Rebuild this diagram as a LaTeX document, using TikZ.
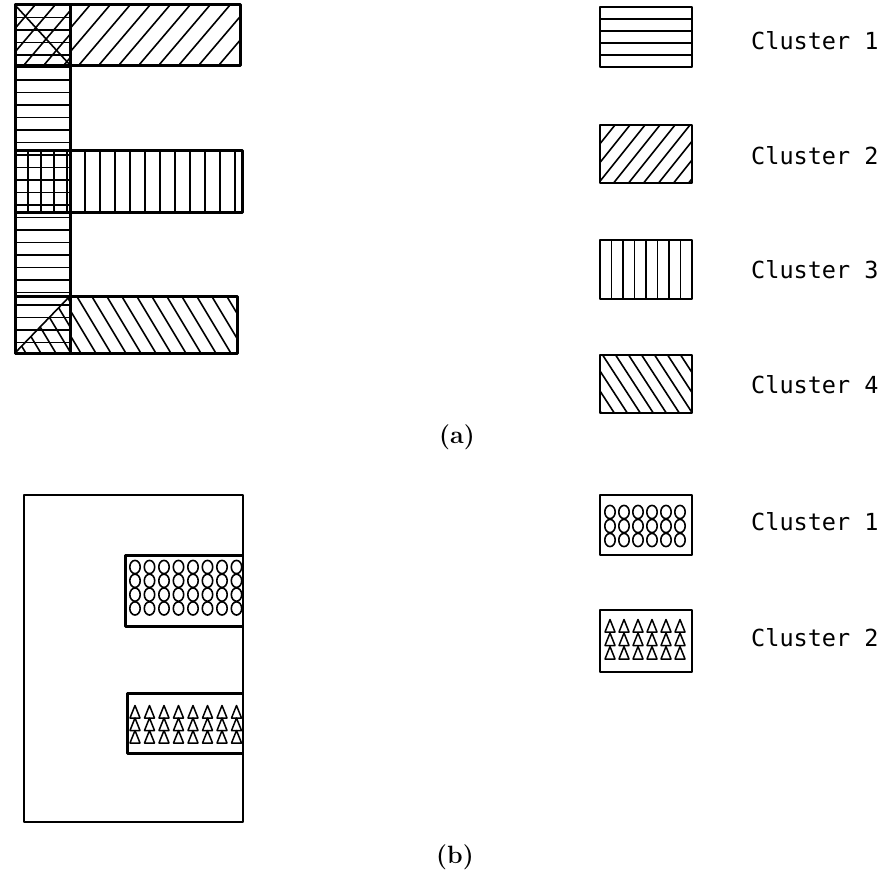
\documentclass[tikz,border=0pt]{standalone}
\usepackage{fontspec}
\newfontfamily\monofont{DejaVu Sans Mono}
\tikzset{
  outl/.style={line width=3pt, line join=round},
  thinoutl/.style={line width=2.4pt, line join=round},
  hl/.style={line width=1.6pt},
  lab/.style={anchor=west, inner sep=0pt, font=\monofont\fontsize{23.5}{27}\selectfont},
  captext/.style={inner sep=0pt, font=\bfseries\fontsize{25}{28}\selectfont},
}
% horizontal lines: x1 y1 x2 y2 step
\newcommand\HL[5]{\begin{scope}\clip(#1,#2)rectangle(#3,#4);
  \pgfmathsetmacro\hya{#2+#5}\pgfmathsetmacro\hyb{#2+2*#5}
  \foreach \yy in {\hya,\hyb,...,#4}{\draw[hl](#1,\yy)--(#3,\yy);}\end{scope}}
% vertical lines
\newcommand\VL[5]{\begin{scope}\clip(#1,#2)rectangle(#3,#4);
  \pgfmathsetmacro\vxa{#1+#5}\pgfmathsetmacro\vxb{#1+2*#5}
  \foreach \xx in {\vxa,\vxb,...,#3}{\draw[hl](\xx,#2)--(\xx,#4);}\end{scope}}
% diagonal lines: x1 y1 x2 y2 step k (k>0 '/', k<0 '\')
\newcommand\DL[6]{\begin{scope}\clip(#1,#2)rectangle(#3,#4);
  \pgfmathsetmacro\ddx{#6*(#4-#2)}
  \pgfmathsetmacro\dxa{#1-abs(\ddx)}\pgfmathsetmacro\dxb{#1-abs(\ddx)+#5}
  \pgfmathsetmacro\dxe{#3+abs(\ddx)}
  \foreach \xx in {\dxa,\dxb,...,\dxe}{\draw[hl](\xx,#4)--++(\ddx,#2-#4);}\end{scope}}
% ovals grid: x0 y0 dx dy nx ny
\newcommand\OV[6]{\foreach \i in {1,...,#5}{\foreach \j in {1,...,#6}{
  \draw[line width=1.6pt] ({#1+(\i-1)*#3},{#2+(\j-1)*#4}) ellipse (5.2 and 6.6);}}}
\newcommand\TR[6]{\foreach \i in {1,...,#5}{\foreach \j in {1,...,#6}{
  \draw[line width=1.5pt,line join=round] ({#1+(\i-1)*#3},{#2+(\j-1)*#4-6.5}) --++(-5,12.5) --++(10,0) -- cycle;}}}
\begin{document}
\begin{tikzpicture}[x=1pt,y=-1pt]
\useasboundingbox (0,0) rectangle (885,875);
% ---------- (a) E shape ----------
\HL{15}{5}{70}{353}{12.5}
\DL{15}{5}{70}{65}{20}{0.85}
\begin{scope}\clip(15,5)rectangle(70,65);\draw[hl](15,5)--(70,65);\end{scope}
\DL{70}{5}{240}{65}{20}{0.85}
\VL{15}{150}{70}{212}{13}
\VL{70}{150}{242}{212}{15}
\DL{70}{296}{237}{353}{15}{-0.6}
\begin{scope}\clip(70,296)--(70,353)--(15,353)--cycle;
  \DL{15}{296}{70}{353}{15}{-0.6}\end{scope}
\draw[hl](70,296)--(15,353);
\draw[outl](15,5) rectangle (240,65);
\draw[outl](15,150) rectangle (242,212);
\draw[outl](15,296) rectangle (237,353);
\draw[outl](15,5) rectangle (70,353);
\node[captext] (capa) at (457,437) {(a)};
% ---------- legend (a) ----------
\HL{600}{7}{692}{67}{12}
\draw[thinoutl](600,7) rectangle (692,67);
\DL{600}{125}{692}{183}{15}{0.8}
\draw[thinoutl](600,125) rectangle (692,183);
\VL{600}{240}{692}{299}{11.5}
\draw[thinoutl](600,240) rectangle (692,299);
\DL{600}{355}{692}{413}{13}{-0.65}
\draw[thinoutl](600,355) rectangle (692,413);
\node[lab] (l1) at (751,41) {Cluster 1};
\node[lab] (l2) at (751,156) {Cluster 2};
\node[lab] (l3) at (751,270) {Cluster 3};
\node[lab] (l4) at (751,385) {Cluster 4};
% ---------- (b) ----------
\draw[thinoutl](24,495) rectangle (243,822);
\begin{scope}\clip(125,555)rectangle(243,626);
  \OV{135}{567}{14.5}{13.8}{8}{4}\end{scope}
\draw[outl](243,555)--(125,555)--(125,626)--(243,626);
\begin{scope}\clip(127,693)rectangle(243,753);
  \TR{135}{712}{14.5}{12.5}{8}{3}\end{scope}
\draw[outl](243,693)--(127,693)--(127,753)--(243,753);
\node[captext] (capb) at (455,857) {(b)};
% ---------- legend (b) ----------
\OV{610}{512}{14}{14}{6}{3}
\draw[thinoutl](600,495) rectangle (692,555);
\TR{610}{626}{14}{13.5}{6}{3}
\draw[thinoutl](600,610) rectangle (692,672);
\node[lab] (l5) at (751,522) {Cluster 1};
\node[lab] (l6) at (751,638) {Cluster 2};
\end{tikzpicture}
\end{document}
